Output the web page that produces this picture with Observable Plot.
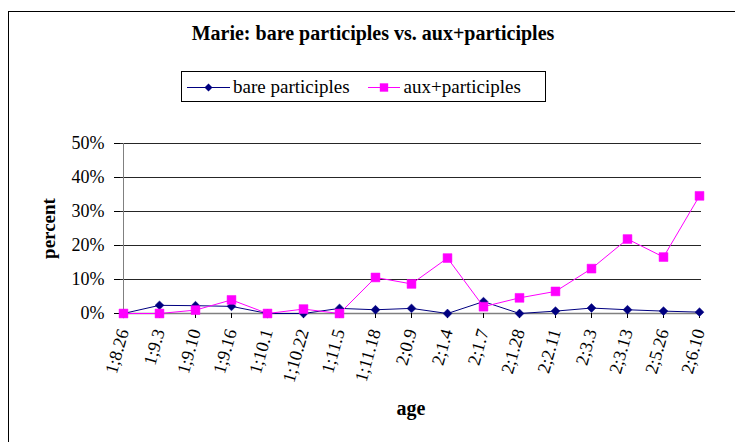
<!DOCTYPE html>
<html>
<head>
<meta charset="utf-8">
<script src="https://cdn.jsdelivr.net/npm/d3@7"></script>
<script src="https://cdn.jsdelivr.net/npm/@observablehq/plot@0.6"></script>
<style>
  html, body { margin: 0; padding: 0; background: #fff; overflow: hidden; }
  #wrap { position: relative; width: 735px; height: 442px; font-family: "Liberation Serif", serif; }
  #frame { position: absolute; left: 8px; top: 11px; width: 800px; height: 500px; border: 1px solid #000; box-sizing: border-box; pointer-events: none; }
  #title { position: absolute; left: 0; width: 746px; top: 20px; text-align: center; font-size: 20px; font-weight: bold; line-height: 26px; }
  #legend { position: absolute; left: 181px; top: 71px; width: 365px; height: 31px; border: 1px solid #000; box-sizing: border-box; display: flex; align-items: center; font-size: 19px; }
  #legend .item { display: flex; align-items: center; }
  #legend svg { display: block; }
  #chart { position: absolute; left: 0; top: 0; }
</style>
</head>
<body>
<div id="wrap">
  <div id="chart"></div>
  <div id="frame"></div>
  <div id="title"></div>
  <div id="legend"></div>
</div>
<script>
const ages = ["1;8.26","1;9.3","1;9.10","1;9.16","1;10.1","1;10.22","1;11.5","1;11.18","2;0.9","2;1.4","2;1.7","2;1.28","2;2.11","2;3.3","2;3.13","2;5.26","2;6.10"];
const bare = [0, 2.4, 2.3, 2.1, 0, 0, 1.5, 1.1, 1.5, 0, 3.5, 0, 0.7, 1.6, 1.1, 0.7, 0.4];
const aux  = [0, 0, 1.0, 4.0, 0, 1.3, 0, 10.6, 8.7, 16.3, 2.0, 4.6, 6.5, 13.2, 21.9, 16.6, 34.6];
const seriesNames = ["bare participles", "aux+participles"];
const seriesColors = ["#000080", "#FF00FF"];
const yTicks = [0, 0.1, 0.2, 0.3, 0.4, 0.5];
const titleText = "Marie: bare participles vs. aux+participles";
const xLabel = "age";
const yLabel = "percent";

const rowsBare = ages.map((a, i) => ({age: a, value: bare[i] / 100}));
const rowsAux = ages.map((a, i) => ({age: a, value: aux[i] / 100}));

const font = "Liberation Serif";

const chart = Plot.plot({
  width: 735,
  height: 442,
  marginLeft: 120,
  marginRight: 34,
  marginTop: 143,
  marginBottom: 129,
  style: {fontFamily: font, fontSize: "18px", color: "#000", background: "transparent"},
  x: {type: "point", domain: ages, padding: 0},
  y: {domain: [0, 0.5]},
  marks: [
    Plot.gridY(yTicks.slice(1), {stroke: "#000", strokeOpacity: 0.85}),
    Plot.ruleX([ages[0]], {stroke: "#808080"}),
    Plot.ruleY([0], {stroke: "#808080", strokeWidth: 1.5}),
    Plot.axisY({ticks: yTicks, tickFormat: d => Math.round(d * 100) + "%", tickSize: 6, tickPadding: 10, label: null, fontSize: 18, stroke: "#000"}),
    Plot.axisX({tickRotate: -74, tickSize: 5, tickPadding: 11, label: null, fontSize: 18, stroke: "#000"}),
    Plot.line(rowsBare, {x: "age", y: "value", stroke: seriesColors[0], strokeWidth: 1}),
    Plot.dot(rowsBare, {x: "age", y: "value", symbol: "diamond2", r: 4, fill: seriesColors[0], stroke: seriesColors[0], strokeWidth: 0.5}),
    Plot.line(rowsAux, {x: "age", y: "value", stroke: seriesColors[1], strokeWidth: 1}),
    Plot.dot(rowsAux, {x: "age", y: "value", symbol: "square", r: 5, fill: seriesColors[1], stroke: seriesColors[1], strokeWidth: 0.5}),
    Plot.text([yLabel], {frameAnchor: "left", textAnchor: "middle", lineAnchor: "middle", dx: -72, rotate: -90, fontWeight: "bold", fontSize: 19, fill: "#000"}),
    Plot.text([xLabel], {frameAnchor: "bottom", textAnchor: "middle", lineAnchor: "middle", dy: 95, fontWeight: "bold", fontSize: 20, fill: "#000"})
  ]
});
document.getElementById("chart").appendChild(chart);
document.getElementById("title").textContent = titleText;

// legend
const legend = document.getElementById("legend");
const symbolPaths = [
  d3.symbol(d3.symbolDiamond2, 40)(),
  d3.symbol(d3.symbolSquare, 70)()
];
const swatchW = [43, 32];
const itemGap = [5, 18];
const textGap = [3, 4];
seriesNames.forEach((name, i) => {
  const item = document.createElement("div");
  item.className = "item";
  item.style.marginLeft = itemGap[i] + "px";
  const sw = d3.create("svg").attr("width", swatchW[i]).attr("height", 14);
  sw.append("line").attr("x1", 0).attr("x2", swatchW[i]).attr("y1", 7.5).attr("y2", 7.5).attr("stroke", seriesColors[i]).attr("stroke-width", 1);
  sw.append("path").attr("d", symbolPaths[i]).attr("transform", `translate(${swatchW[i] / 2},7.5)`).attr("fill", seriesColors[i]);
  item.appendChild(sw.node());
  const t = document.createElement("span");
  t.textContent = name;
  t.style.marginLeft = textGap[i] + "px";
  item.appendChild(t);
  legend.appendChild(item);
});
</script>
</body>
</html>
